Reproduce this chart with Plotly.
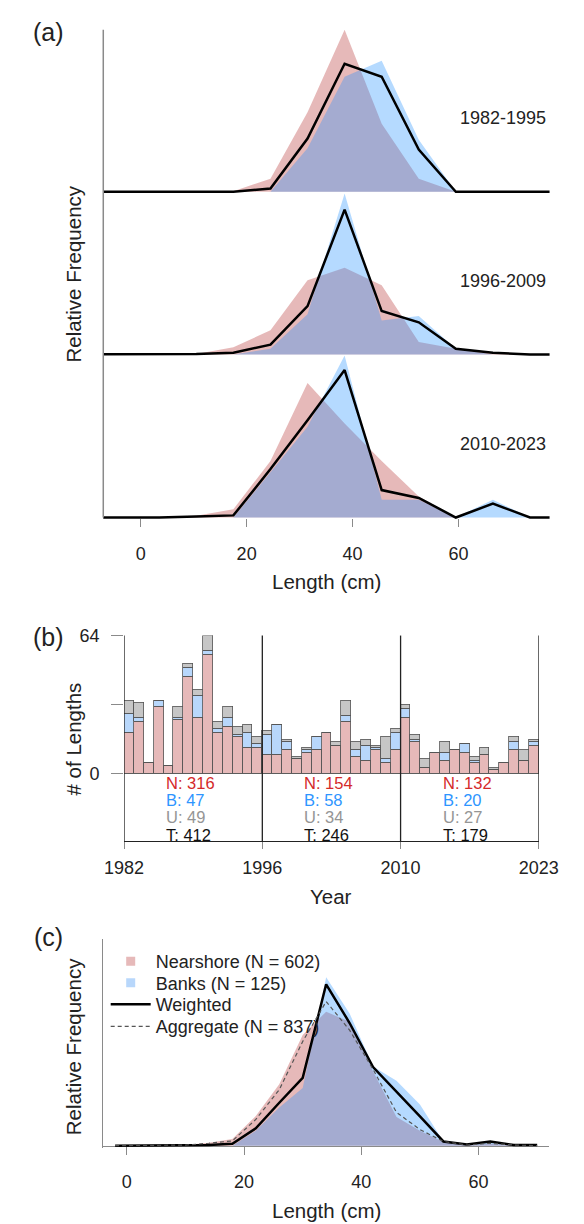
import plotly.graph_objects as go

W, H = 584, 1224
FONT = "Liberation Sans, Arial, sans-serif"

# ---- panel (a): length compositions by period (7 cm bins) ----
bins_a = [-10.5, -3.5, 3.5, 10.5, 17.5, 24.5, 31.5, 38.5, 45.5, 52.5, 59.5, 66.5, 73.5, 80.5]
periods = ["1982-1995", "1996-2009", "2010-2023"]
near_8295 = [0, 0, 0, 0, 0.002, 0.039, 0.237, 0.483, 0.203, 0.039, 0, 0, 0, 0]
banks_8295 = [0, 0, 0, 0, 0, 0, 0.130, 0.343, 0.391, 0.155, 0, 0, 0, 0]
wtd_8295 = [0, 0, 0, 0, 0, 0.010, 0.159, 0.382, 0.343, 0.126, 0, 0, 0, 0]
near_9609 = [0, 0, 0, 0.002, 0.025, 0.084, 0.258, 0.302, 0.241, 0.043, 0.020, 0.008, 0.002, 0]
banks_9609 = [0, 0, 0, 0, 0, 0.020, 0.140, 0.560, 0.118, 0.134, 0.020, 0, 0, 0]
wtd_9609 = [0, 0, 0, 0.002, 0.006, 0.034, 0.168, 0.504, 0.151, 0.112, 0.020, 0.006, 0, 0]
near_1023 = [0, 0, 0, 0.005, 0.023, 0.159, 0.378, 0.264, 0.159, 0.059, 0, 0, 0, 0]
banks_1023 = [0, 0, 0, 0, 0, 0.127, 0.255, 0.455, 0.050, 0.050, 0, 0.050, 0, 0]
wtd_1023 = [0, 0, 0, 0.003, 0.006, 0.136, 0.273, 0.414, 0.077, 0.055, 0, 0.039, 0, 0]

# ---- panel (b): number of lengths per year ----
years = list(range(1982, 2024))
n_near = [19, 24, 5, 31, 4, 25, 45, 26, 55, 19, 22, 17, 12, 12,
          9, 9, 11, 7, 10, 11, 19, 13, 24, 8, 6, 11, 5, 11,
          26, 15, 3, 10, 6, 11, 10, 5, 9, 2, 5, 11, 6, 13]
n_banks = [9, 2, 0, 3, 0, 1, 4, 10, 2, 2, 4, 1, 7, 2,
           9, 14, 4, 0, 1, 6, 0, 0, 3, 3, 7, 1, 2, 8,
           4, 1, 0, 0, 4, 0, 4, 1, 0, 0, 0, 4, 0, 2]
n_unk = [6, 7, 0, 0, 0, 5, 2, 3, 7, 3, 5, 4, 4, 3,
         2, 0, 1, 1, 1, 0, 0, 2, 7, 4, 3, 1, 10, 2,
         2, 2, 4, 0, 5, 0, 0, 2, 3, 1, 0, 2, 5, 1]
group_edges = [0, 14, 28, 42]
group_labels = ["1982", "1996", "2010", "2023"]

# ---- panel (c): overall composition (4 cm bins) ----
bins_c = [-2, 2, 6, 10, 14, 18, 22, 26, 30, 34, 38, 42, 46, 50, 54, 58, 62, 66, 70]
near_c = [0, 0, 0, 0.001, 0.005, 0.011, 0.050, 0.103, 0.186, 0.225, 0.208, 0.125, 0.048, 0.025, 0.006, 0.001, 0.003, 0.001, 0]
banks_c = [0, 0, 0, 0, 0, 0, 0.025, 0.064, 0.097, 0.283, 0.222, 0.133, 0.109, 0.069, 0.007, 0.002, 0.007, 0.001, 0]
wtd_c = [0, 0, 0.001, 0, 0.001, 0.003, 0.029, 0.072, 0.114, 0.271, 0.206, 0.132, 0.091, 0.049, 0.007, 0.002, 0.007, 0.001, 0.001]
agg_c = [0, 0, 0, 0.001, 0.004, 0.008, 0.044, 0.094, 0.175, 0.242, 0.194, 0.128, 0.056, 0.027, 0.007, 0.001, 0.004, 0.001, 0]
legend_names = ["Nearshore (N = 602)", "Banks (N = 125)", "Weighted", "Aggregate (N = 837)"]

RED_FILL = "rgba(205, 115, 115, 0.5)"
BLUE_FILL = "rgba(30, 144, 255, 0.33)"
RED_BAR, BLUE_BAR, GRAY_BAR = "#e6b9b9", "#b8d7fb", "#c6c6c6"
AXIS_GRAY = "#8a8a8a"


def px_x(p):
    return p / W


def px_y(p):
    return 1 - p / H


def pad_range(top, height_px, pad_px=2):
    # small negative start so the baseline line is not clipped
    return [-top * pad_px / (height_px - pad_px), top]


fig = go.Figure()

# panel (a) - three stacked sub-panels sharing the x axis
panel_a = [
    ("y3", near_8295, banks_8295, wtd_8295),
    ("y2", near_9609, banks_9609, wtd_9609),
    ("y", near_1023, banks_1023, wtd_1023),
]
for yref, near, banks, wtd in panel_a:
    fig.add_trace(go.Scatter(x=bins_a, y=near, mode="none", fill="tozeroy",
                             fillcolor=RED_FILL, xaxis="x", yaxis=yref, showlegend=False))
    fig.add_trace(go.Scatter(x=bins_a, y=banks, mode="none", fill="tozeroy",
                             fillcolor=BLUE_FILL, xaxis="x", yaxis=yref, showlegend=False))
    fig.add_trace(go.Scatter(x=bins_a, y=wtd, mode="lines", line=dict(color="black", width=2.5),
                             xaxis="x", yaxis=yref, showlegend=False))

# panel (b) - stacked bars
bar_x = [i + 0.5 for i in range(len(years))]
for vals, col in [(n_near, RED_BAR), (n_banks, BLUE_BAR), (n_unk, GRAY_BAR)]:
    fig.add_trace(go.Bar(x=bar_x, y=vals, width=1, marker=dict(color=col, line=dict(color="#555", width=0.8)),
                         xaxis="x2", yaxis="y4", showlegend=False))

# panel (c)
fig.add_trace(go.Scatter(x=bins_c, y=near_c, mode="none", fill="tozeroy", fillcolor=RED_FILL,
                         xaxis="x3", yaxis="y5", showlegend=False))
fig.add_trace(go.Scatter(x=bins_c, y=banks_c, mode="none", fill="tozeroy", fillcolor=BLUE_FILL,
                         xaxis="x3", yaxis="y5", showlegend=False))
fig.add_trace(go.Scatter(x=[None], y=[None], mode="markers", name=legend_names[0], legend="legend",
                         marker=dict(symbol="square", size=9, color="#e6b9b9"), xaxis="x3", yaxis="y5"))
fig.add_trace(go.Scatter(x=[None], y=[None], mode="markers", name=legend_names[1], legend="legend2",
                         marker=dict(symbol="square", size=9, color="#b8d7fb"), xaxis="x3", yaxis="y5"))
fig.add_trace(go.Scatter(x=bins_c, y=wtd_c, mode="lines", name=legend_names[2], legend="legend3",
                         line=dict(color="black", width=2.5), xaxis="x3", yaxis="y5"))
fig.add_trace(go.Scatter(x=bins_c, y=agg_c, mode="lines", name=legend_names[3], legend="legend4",
                         line=dict(color="#555", width=1.2, dash="4px,3px"), xaxis="x3", yaxis="y5"))

tickfont = dict(family=FONT, size=18, color="#222")
hidden = dict(visible=False, showgrid=False, zeroline=False, fixedrange=True)

max_top = max(near_8295 + banks_8295 + wtd_8295)
max_mid = max(near_9609 + banks_9609 + wtd_9609)
max_bot = max(near_1023 + banks_1023 + wtd_1023)


def legend_row(ypix):
    # one legend per row so the rows sit as tight as in the reference
    return dict(x=px_x(92), y=px_y(ypix), xanchor="left", yanchor="middle", bgcolor="rgba(0,0,0,0)",
                font=dict(family=FONT, size=18, color="#222"), itemwidth=40, traceorder="normal")


fig.update_layout(
    width=W, height=H,
    margin=dict(l=0, r=0, t=0, b=0),
    paper_bgcolor="white", plot_bgcolor="rgba(0,0,0,0)",
    font=dict(family=FONT, size=18, color="#222"),
    barmode="stack", bargap=0,
    xaxis=dict(domain=[px_x(89.4), px_x(568.5)], range=[-7.07, 77.2], anchor="free", position=px_y(511.7),
               tickvals=[0, 20, 40, 60], ticks="outside", ticklen=8, tickcolor=AXIS_GRAY,
               showline=False, showgrid=False, zeroline=False, tickfont=tickfont, ticklabelstandoff=12),
    yaxis=dict(domain=[px_y(513.7), px_y(348.3)], range=pad_range(max_bot, 165.4), anchor="x", **hidden),
    yaxis2=dict(domain=[px_y(349.3), px_y(185)], range=pad_range(max_mid, 164.3), anchor="x", **hidden),
    yaxis3=dict(domain=[px_y(185.3), px_y(20)], range=pad_range(max_top, 165.3), anchor="x", **hidden),
    xaxis2=dict(domain=[px_x(111.7), px_x(557)], range=[0, 42], anchor="y4",
                tickvals=group_edges, ticktext=group_labels, ticks="outside", ticklen=7, tickcolor=AXIS_GRAY,
                showline=True, linecolor="#222", linewidth=1, showgrid=False, zeroline=False,
                tickfont=tickfont, ticklabelstandoff=3),
    yaxis4=dict(domain=[px_y(838.3), px_y(630.7)], range=[-31.38, 64], anchor="x2",
                tickvals=[0, 32, 64], ticktext=["0", "", "64"], ticks="outside", ticklen=12,
                tickcolor=AXIS_GRAY, showline=False, showgrid=False,
                zeroline=True, zerolinecolor="#777", zerolinewidth=1, tickfont=tickfont, ticklabelstandoff=8),
    xaxis3=dict(domain=[px_x(89.4), px_x(567.8)], range=[-4.02, 72.0], anchor="free", position=px_y(1145),
                tickvals=[0, 20, 40, 60], ticks="outside", ticklen=8, tickcolor=AXIS_GRAY,
                showline=True, linecolor=AXIS_GRAY, linewidth=1.2, layer="below traces",
                showgrid=False, zeroline=False, tickfont=tickfont, ticklabelstandoff=12),
    yaxis5=dict(domain=[px_y(1147), px_y(936.7)], range=pad_range(0.347, 210.3), anchor="x3",
                showline=True, linecolor=AXIS_GRAY, linewidth=1.2, showticklabels=False, ticks="",
                showgrid=False, zeroline=False),
    legend=legend_row(959.3),
    legend2=legend_row(981),
    legend3=legend_row(1002.7),
    legend4=legend_row(1025),
)

# gray left axis for panel (a)
fig.add_shape(type="line", xref="paper", yref="paper", x0=px_x(89.4), x1=px_x(89.4),
              y0=px_y(20), y1=px_y(511.7), line=dict(color=AXIS_GRAY, width=1.5))

# period labels in panel (a)
for yref, label in zip(["y3", "y2", "y"], periods):
    fig.add_annotation(text=label, xref="paper", yref=yref + " domain", x=px_x(567), y=0.46,
                       xanchor="right", yanchor="middle", showarrow=False,
                       font=dict(family=FONT, size=18, color="#222"))

# group separators and counts in panel (b)
for e in group_edges:
    fig.add_shape(type="line", xref="x2", yref="y4 domain", x0=e, x1=e, y0=0, y1=1,
                  line=dict(color="#222", width=1.3))
count_rows = [("N", n_near, "#d42a2a", 779.5), ("B", n_banks, "#2e95ff", 796.8),
              ("U", n_unk, "#959595", 814), ("T", None, "#111", 831.6)]
for g in range(3):
    a, b = group_edges[g], group_edges[g + 1]
    for key, vals, col, ypix in count_rows:
        if vals is None:
            total = sum(n_near[a:b]) + sum(n_banks[a:b]) + sum(n_unk[a:b])
        else:
            total = sum(vals[a:b])
        fig.add_annotation(text=f"{key}: {total}", xref="x2", yref="paper", x=a + 4.05, y=px_y(ypix),
                           xanchor="left", yanchor="middle", showarrow=False,
                           font=dict(family=FONT, size=16.5, color=col))

# axis titles and panel tags
titles = [
    ("Relative Frequency", 57.7, 266, -90),
    ("Length (cm)", 329, 576.7, 0),
    ("# of Lengths", 58.5, 735, -90),
    ("Year", 334, 893.3, 0),
    ("Relative Frequency", 57.7, 1045, -90),
    ("Length (cm)", 328.6, 1210, 0),
]
for text, xp, yp, ang in titles:
    fig.add_annotation(text=text, xref="paper", yref="paper", x=px_x(xp), y=px_y(yp),
                       xanchor="center", yanchor="middle", textangle=ang, showarrow=False,
                       font=dict(family=FONT, size=20.5, color="#222"))
for tag, yp in [("(a)", 22), ("(b)", 631.7), ("(c)", 935)]:
    fig.add_annotation(text=tag, xref="paper", yref="paper", x=px_x(30.5), y=px_y(yp),
                       xanchor="center", yanchor="middle", showarrow=False,
                       font=dict(family=FONT, size=25, color="#222"))

# the page's default body margin would push the figure off the window
fig.write_html("out.html", config={"displayModeBar": False},
               post_script="document.body.style.margin = '0px';")
